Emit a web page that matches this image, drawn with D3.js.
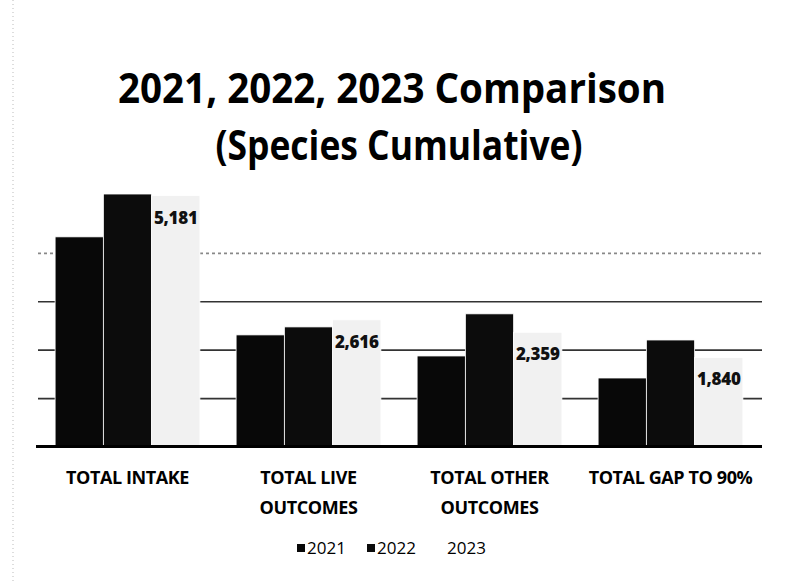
<!DOCTYPE html>
<html>
<head>
<meta charset="utf-8">
<script src="https://cdn.jsdelivr.net/npm/d3@7"></script>
<style>
  body { margin: 0; background: #fff; }
  svg { display: block; font-family: "Open Sans", "Noto Sans", sans-serif; }
</style>
</head>
<body>
<div id="chart"></div>
<script>
// chart data
const categories = ["TOTAL INTAKE", "TOTAL LIVE OUTCOMES", "TOTAL OTHER OUTCOMES", "TOTAL GAP TO 90%"];
const categoryLines = [["TOTAL INTAKE"], ["TOTAL LIVE", "OUTCOMES"], ["TOTAL OTHER", "OUTCOMES"], ["TOTAL GAP TO 90%"]];
const years = ["2021", "2022", "2023"];
const values2021 = [4330, 2305, 1870, 1415];
const values2022 = [5215, 2470, 2740, 2200];
const values2023 = [5181, 2616, 2359, 1840];
const yTicks = [1000, 2000, 3000, 4000];
const titleLines = ["2021, 2022, 2023 Comparison", "(Species Cumulative)"];

const colors = {"2021": "#080808", "2022": "#0c0c0c", "2023": "#f1f1f1"};

function drawChart() {
    const width = 785, height = 584;
    const plot = {left: 37, right: 761, top: 156, bottom: 446.5};

    const svg = d3.select("#chart")
        .append("svg")
        .attr("width", width)
        .attr("height", height);

    // faint scan edge on the left
    svg.append("line")
        .attr("x1", 13).attr("x2", 13)
        .attr("y1", 0).attr("y2", height)
        .attr("stroke", "#bbb")
        .attr("stroke-width", 1)
        .attr("stroke-dasharray", "1,3");

    // title (Calibri-like narrow bold, squeezed to the original widths)
    const titleWidths = [548, 367];
    const titleCenters = [392, 399];
    svg.append("g").selectAll("text")
        .data(titleLines)
        .join("text")
        .attr("x", (d, i) => titleCenters[i])
        .attr("y", (d, i) => 103 + i * 57)
        .attr("text-anchor", "middle")
        .attr("font-size", 42)
        .attr("font-weight", 700)
        .attr("textLength", (d, i) => titleWidths[i])
        .attr("lengthAdjust", "spacingAndGlyphs")
        .attr("fill", "#000")
        .text(d => d);

    // scales
    const x0 = d3.scaleBand()
        .domain(categories)
        .range([plot.left, plot.right])
        .paddingInner(0.2)
        .paddingOuter(0.1);

    const x1 = d3.scaleBand()
        .domain(years)
        .range([0, x0.bandwidth()]);

    const y = d3.scaleLinear()
        .domain([0, 6000])
        .range([plot.bottom, plot.top]);

    // gridlines
    const grid = svg.append("g")
        .attr("transform", `translate(${plot.left + 1},0)`)
        .call(d3.axisLeft(y).tickValues(yTicks).tickSize(-(plot.right - plot.left)).tickFormat(""));
    grid.select(".domain").remove();
    grid.selectAll(".tick line")
        .attr("stroke", d => d === 4000 ? "#888" : "#333")
        .attr("stroke-dasharray", d => d === 4000 ? "3,3" : null)
        .attr("stroke-width", 1.6);

    // bars
    const series = {"2021": values2021, "2022": values2022, "2023": values2023};
    const groups = svg.append("g").selectAll("g")
        .data(categories)
        .join("g")
        .attr("transform", d => `translate(${x0(d)},0)`);

    groups.selectAll("rect")
        .data((c, i) => years.map(yr => ({year: yr, value: series[yr][i]})))
        .join("rect")
        .attr("x", d => x1(d.year))
        .attr("y", d => y(d.value))
        .attr("width", x1.bandwidth())
        .attr("height", d => y(0) - y(d.value))
        .attr("fill", d => colors[d.year])
        .attr("stroke", "#fff")
        .attr("stroke-width", 0.8);

    // 2023 data labels (inside end)
    groups.append("text")
        .datum((c, i) => values2023[i])
        .attr("x", x1("2023") + x1.bandwidth() / 2)
        .attr("y", d => y(d) + 28)
        .attr("text-anchor", "middle")
        .attr("font-size", 17)
        .attr("font-weight", 800)
        .attr("letter-spacing", -0.3)
        .attr("fill", "#111")
        .text(d => d3.format(",")(d));

    // baseline
    svg.append("line")
        .attr("x1", plot.left - 1).attr("x2", plot.right + 1)
        .attr("y1", y(0)).attr("y2", y(0))
        .attr("stroke", "#000")
        .attr("stroke-width", 3);

    // category labels
    svg.append("g").selectAll("text")
        .data(categories)
        .join("text")
        .attr("x", d => x0(d) + x0.bandwidth() / 2)
        .attr("y", 484)
        .attr("text-anchor", "middle")
        .attr("font-size", 18)
        .attr("font-weight", 700)
        .attr("letter-spacing", -0.4)
        .attr("fill", "#000")
        .each(function(d, i) {
            const t = d3.select(this);
            categoryLines[i].forEach((line, j) => {
                t.append("tspan")
                    .attr("x", x0(d) + x0.bandwidth() / 2)
                    .attr("dy", j === 0 ? 0 : 30)
                    .text(line);
            });
        });

    // legend
    const legend = svg.append("g").selectAll("g")
        .data(years)
        .join("g")
        .attr("transform", (d, i) => `translate(${297 + i * 70},548)`);
    legend.append("rect")
        .attr("x", 0).attr("y", -4)
        .attr("width", 8).attr("height", 8)
        .attr("fill", d => d === "2023" ? "#fff" : colors[d]);
    legend.append("text")
        .attr("x", 10)
        .attr("y", 6)
        .attr("font-size", 17)
        .attr("fill", "#000")
        .text(d => d);
}

drawChart();
</script>
</body>
</html>
